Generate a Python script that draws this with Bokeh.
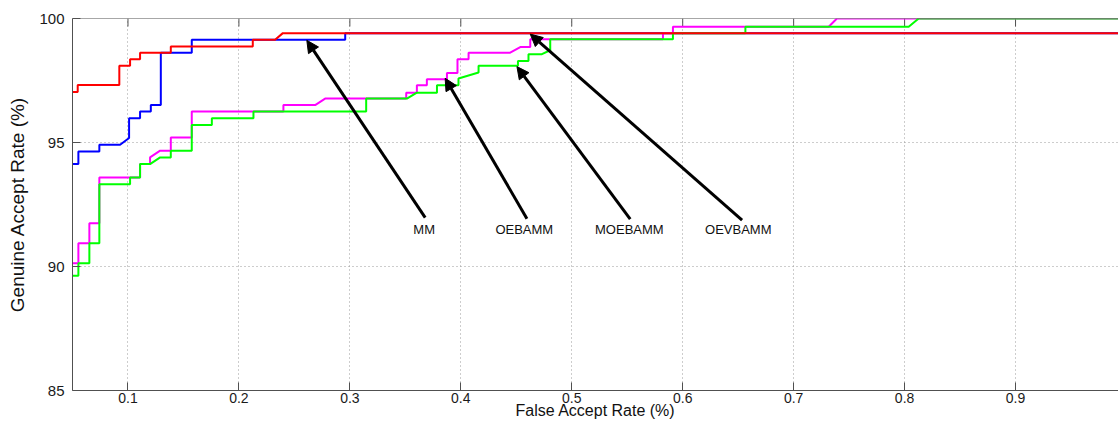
from bokeh.plotting import figure
from bokeh.models import Range1d, FixedTicker, Arrow, NormalHead, ColumnDataSource, Span
from bokeh.core.properties import value
from bokeh.embed import file_html
from bokeh.resources import INLINE

FONT = "Liberation Sans"

# ---- data (FAR %, GAR %) polyline vertices ----
mm_far = [0.05, 0.0553, 0.0553, 0.0742, 0.0742, 0.0929, 0.101, 0.101, 0.1109, 0.1109,
          0.1206, 0.1206, 0.1296, 0.1296, 0.1575, 0.1575, 0.2958, 0.2958, 1.0]
mm_gar = [94.13, 94.13, 94.64, 94.64, 94.91, 94.91, 95.18, 95.98, 95.98, 96.25,
          96.25, 96.51, 96.51, 98.62, 98.62, 99.14, 99.14, 99.41, 99.41]

oebamm_far = [0.05, 0.0553, 0.0553, 0.0652, 0.0652, 0.0742, 0.0742, 0.1109, 0.1109, 0.1199,
              0.1199, 0.129, 0.1386, 0.1386, 0.1575, 0.1575, 0.2401, 0.2401, 0.2687, 0.2777,
              0.3508, 0.3508, 0.3604, 0.3604, 0.3694, 0.3694, 0.3875, 0.3875, 0.3970, 0.3970,
              0.4070, 0.4070, 0.4445, 0.4536, 0.4626, 0.4626, 0.5822, 0.5822, 0.5912, 0.5912,
              0.7316, 0.7390, 1.0]
oebamm_gar = [90.13, 90.13, 90.94, 90.94, 91.74, 91.74, 93.59, 93.59, 94.13, 94.13,
              94.40, 94.67, 94.67, 95.20, 95.20, 96.25, 96.25, 96.51, 96.51, 96.77,
              96.77, 97.01, 97.01, 97.31, 97.31, 97.55, 97.55, 97.80, 97.80, 98.36,
              98.36, 98.62, 98.62, 98.85, 98.85, 99.16, 99.16, 99.41, 99.41, 99.67,
              99.67, 100.0, 100.0]

moebamm_far = [0.05, 0.0553, 0.0553, 0.0652, 0.0652, 0.0742, 0.0742, 0.1019, 0.1019, 0.1109,
               0.1109, 0.1199, 0.129, 0.1386, 0.1386, 0.1575, 0.1575, 0.1756, 0.1756, 0.2131,
               0.2131, 0.3147, 0.3147, 0.3514, 0.3604, 0.3785, 0.3785, 0.3979, 0.3979, 0.4160,
               0.4160, 0.4515, 0.4515, 0.4610, 0.4610, 0.4731, 0.4791, 0.4806, 0.4806, 0.5912,
               0.5912, 0.6565, 0.6565, 0.8037, 0.8127, 1.0]
moebamm_gar = [89.63, 89.63, 90.13, 90.13, 90.94, 90.94, 93.32, 93.32, 93.59, 93.59,
               94.13, 94.13, 94.40, 94.40, 94.67, 94.67, 95.71, 95.71, 95.98, 95.98,
               96.25, 96.25, 96.77, 96.77, 97.01, 97.01, 97.31, 97.31, 97.58, 97.82,
               98.09, 98.09, 98.29, 98.29, 98.56, 98.56, 98.69, 98.69, 99.16, 99.16,
               99.41, 99.41, 99.67, 99.67, 100.0, 100.0]

oevbamm_far = [0.05, 0.0547, 0.0547, 0.0922, 0.0922, 0.1019, 0.1019, 0.1109, 0.1109, 0.1386,
               0.1386, 0.2125, 0.2125, 0.2326, 0.2396, 1.0]
oevbamm_gar = [97.04, 97.04, 97.32, 97.32, 98.09, 98.09, 98.36, 98.36, 98.62, 98.62,
               98.87, 98.87, 99.14, 99.14, 99.41, 99.41]

# annotations: label text, arrow tail (near text) and arrow head (on curve)
ann_labels = ["MM", "OEBAMM", "MOEBAMM", "OEVBAMM"]
ann_text_x = [0.3670, 0.4572, 0.5519, 0.6501]
ann_text_y = [91.48, 91.48, 91.48, 91.48]
ann_tail_x = [0.3679, 0.4596, 0.5527, 0.6535]
ann_tail_y = [91.97, 91.93, 91.91, 91.87]
ann_head_x = [0.2612, 0.3859, 0.4506, 0.4626]
ann_head_y = [99.12, 97.59, 98.06, 99.37]

x_ticks = [0.1, 0.2, 0.3, 0.4, 0.5, 0.6, 0.7, 0.8, 0.9]
y_ticks = [85, 90, 95, 100]
x_title = "False Accept Rate (%)"
y_title = "Genuine Accept Rate (%)"

AX = "#505050"
Y0, Y1 = 85, 100

p = figure(width=1118, height=421, x_range=Range1d(0.05, 0.9928), y_range=Range1d(Y0, Y1),
           output_backend="svg", toolbar_location=None,
           min_border_left=72, min_border_right=0, min_border_top=18, min_border_bottom=31)
p.outline_line_color = None
p.background_fill_color = "white"

for ax in (p.xaxis[0], p.yaxis[0]):
    ax.major_tick_in = 8
    ax.major_tick_out = 0
    ax.minor_tick_line_color = None
    ax.axis_line_color = AX
    ax.major_tick_line_color = AX
    ax.major_label_text_font = FONT
    ax.major_label_text_color = "#1a1a1a"
    ax.axis_label_text_font = FONT
    ax.axis_label_text_font_style = "normal"
    ax.axis_label_text_color = "#111111"

p.xaxis[0].ticker = FixedTicker(ticks=x_ticks)
p.xaxis[0].major_label_text_font_size = "14px"
p.xaxis[0].major_label_standoff = 2
p.xaxis[0].axis_label = x_title
p.xaxis[0].axis_label_text_font_size = "16px"
p.xaxis[0].axis_label_standoff = -4

p.yaxis[0].ticker = FixedTicker(ticks=y_ticks)
p.yaxis[0].major_label_text_font_size = "15px"
p.yaxis[0].major_label_standoff = 8
p.yaxis[0].axis_label = y_title
p.yaxis[0].axis_label_text_font_size = "19px"
p.yaxis[0].axis_label_standoff = 8

# box top edge with inward ticks (MATLAB style)
p.add_layout(Span(location=Y1, dimension="width", line_color=AX, line_width=1))
tick_len = 8 * (Y1 - Y0) / 372.0
p.segment(x0=x_ticks, y0=[Y1] * len(x_ticks), x1=x_ticks, y1=[Y1 - tick_len] * len(x_ticks),
          line_color=AX, line_width=1)

p.xgrid.ticker = FixedTicker(ticks=x_ticks)
p.ygrid.ticker = FixedTicker(ticks=y_ticks)
for g in (p.xgrid[0], p.ygrid[0]):
    g.grid_line_color = "#9a9a9a"
    g.grid_line_dash = "1 3"
    g.grid_line_width = 1

p.line(mm_far, mm_gar, line_color="#0000ff", line_width=2)
p.line(oebamm_far, oebamm_gar, line_color="#ff00ff", line_width=2)
p.line(moebamm_far, moebamm_gar, line_color="#00ff00", line_width=2)
p.line(oevbamm_far, oevbamm_gar, line_color="#ff0000", line_width=2)

arrow_src = ColumnDataSource(dict(x0=ann_tail_x, y0=ann_tail_y, x1=ann_head_x, y1=ann_head_y))
p.add_layout(Arrow(source=arrow_src, x_start="x0", y_start="y0", x_end="x1", y_end="y1",
                   line_width=3, line_color="black",
                   end=NormalHead(size=12, fill_color="black", line_color="black", line_width=1)))

p.text(x=ann_text_x, y=ann_text_y, text=ann_labels, text_font=value(FONT),
       text_font_size="13px", text_align="center", text_baseline="middle", text_color="#111111")

open("out.html", "w").write(file_html(p, INLINE))
